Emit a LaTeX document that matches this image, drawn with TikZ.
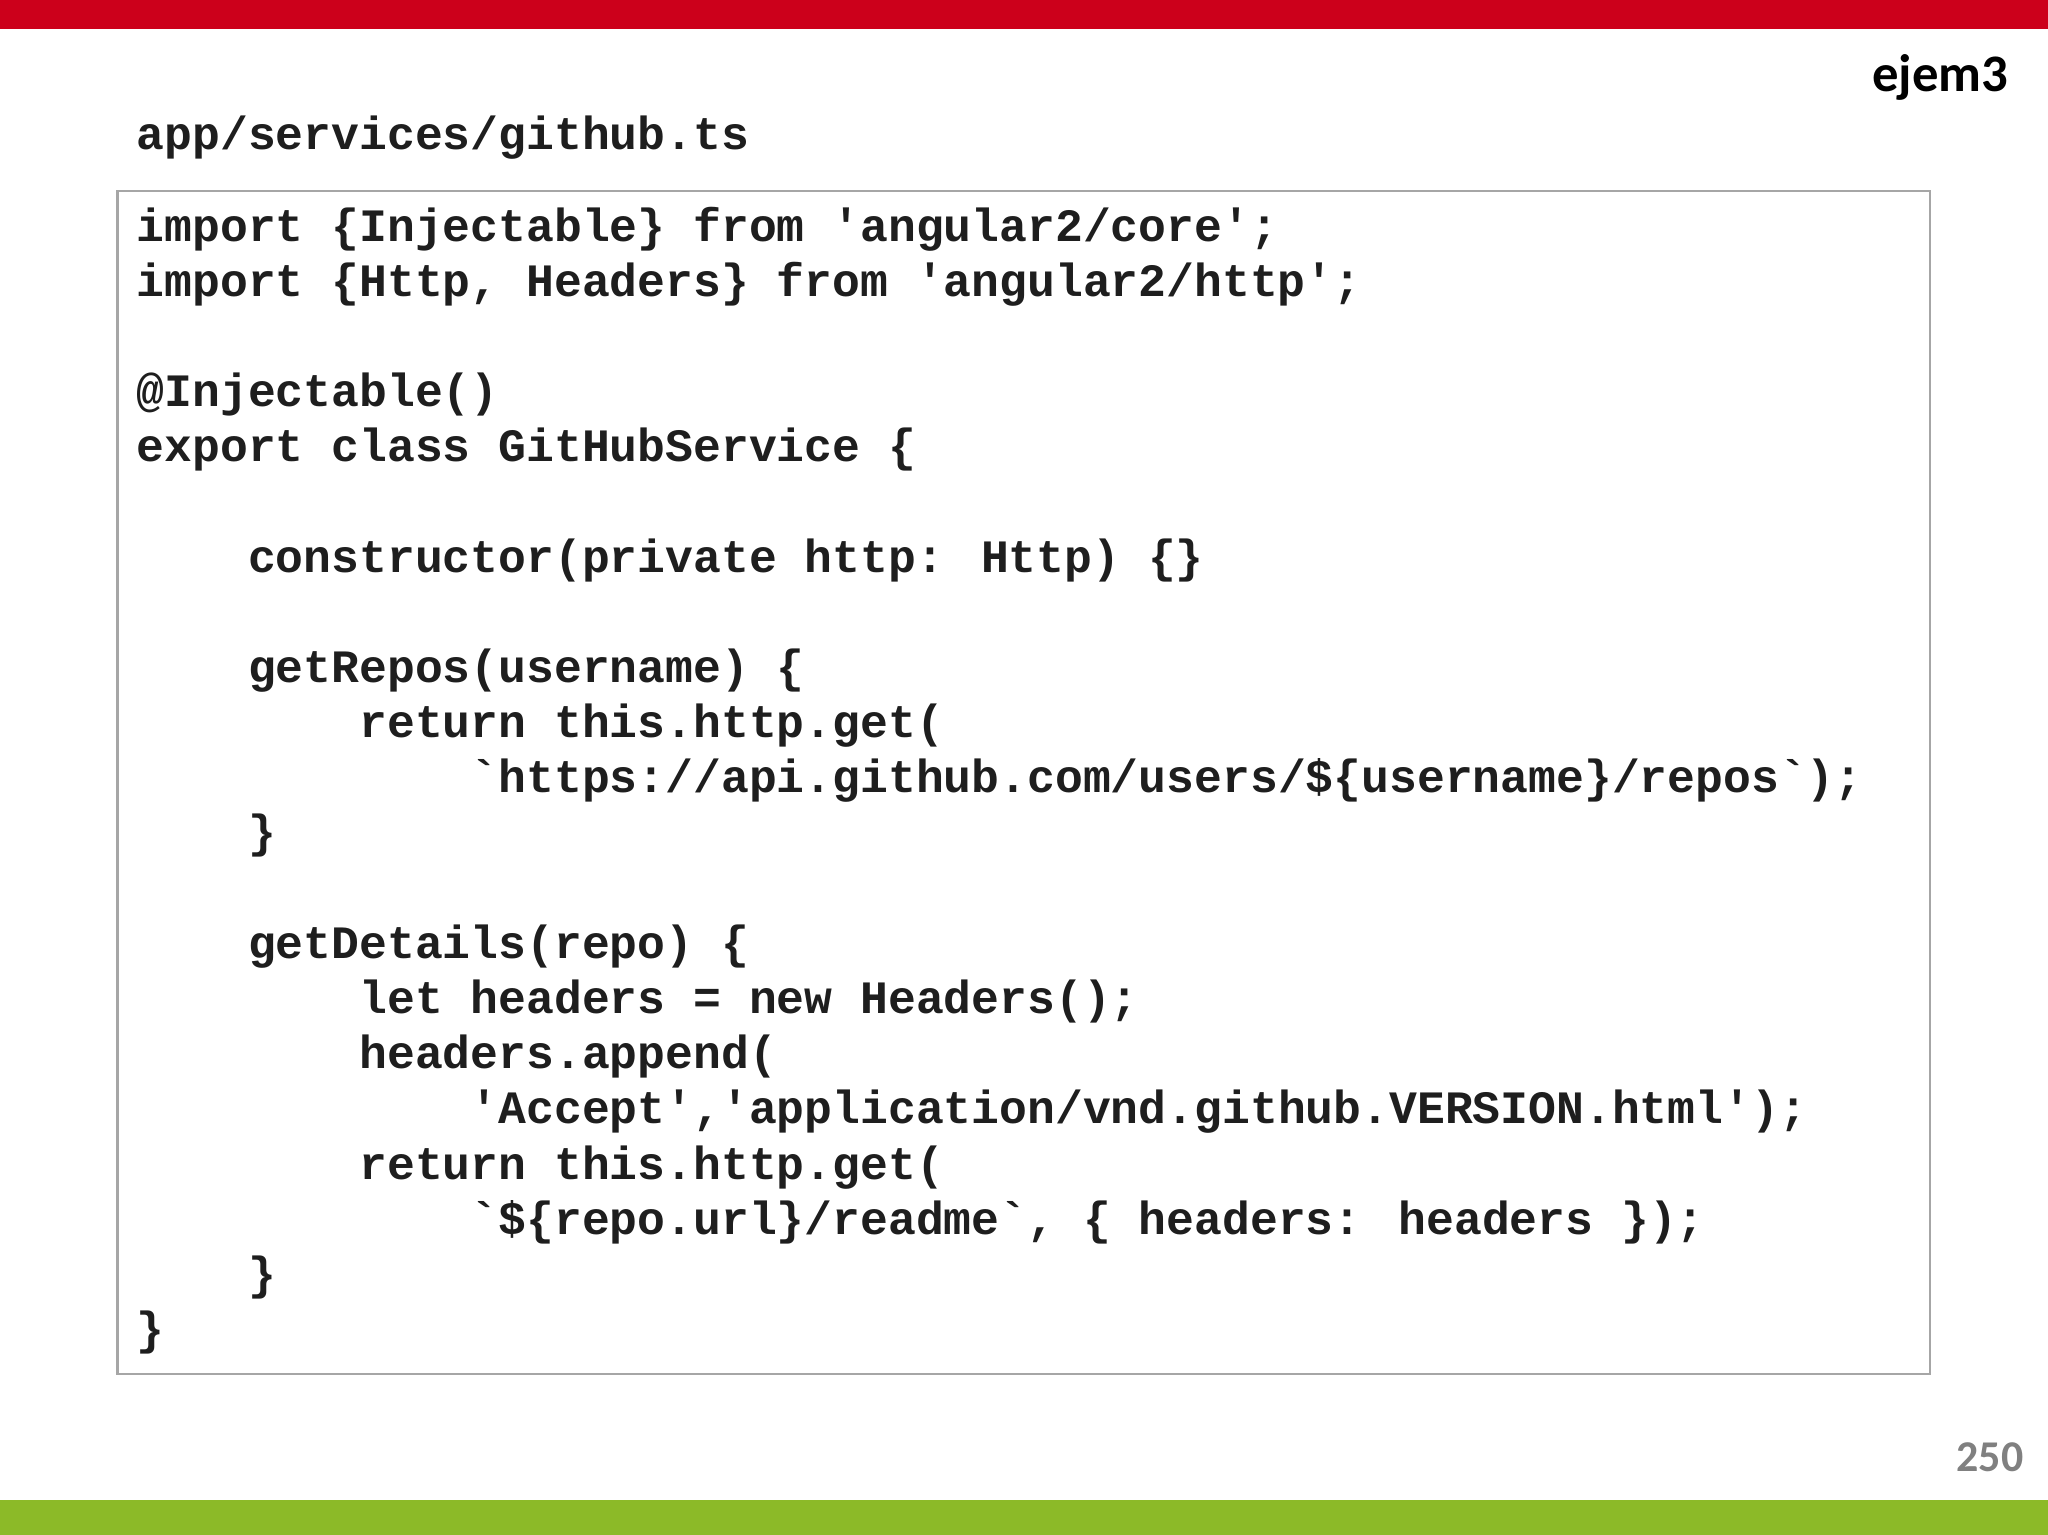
\documentclass[tikz,border=0pt]{standalone}
\usepackage{fontspec}
\setsansfont{Carlito}
\newfontfamily\codefont{Liberation Mono}
\usetikzlibrary{positioning}
\definecolor{slidered}{RGB}{204,0,27}
\definecolor{slidegreen}{RGB}{140,186,40}
\definecolor{codeink}{RGB}{30,30,30}
\tikzset{
  every node/.style={inner sep=0pt},
  code/.style={font=\codefont\bfseries\fontsize{13.2}{15.7}\selectfont, text=codeink, align=left},
}
\newcommand{\ind}{\phantom{xxxx}}
\begin{document}
\begin{tikzpicture}
  \useasboundingbox (0,0) rectangle (20.48,15.35);
  % bars
  \fill[slidered] (0,15.06) rectangle (20.48,15.35);
  \fill[slidegreen] (0,0) rectangle (20.48,0.35);
  % code frame
  \draw[gray!70, line width=0.6pt] (1.175,1.61) rectangle (19.30,13.44);
  \node[code, anchor=base west] (title) at (1.36,13.85) {app/services/github.ts};
  \node[font=\sffamily\bfseries\fontsize{15}{17}\selectfont, anchor=base east] (ejem) at (20.09,14.43) {ejem3};
  \node[font=\sffamily\bfseries\fontsize{12.5}{14}\selectfont, text=gray, anchor=base east] (page) at (20.24,0.63) {250};
  \node[code, anchor=north west] (src) at (1.36,13.29) {%
import \{Injectable\} from 'angular2/core';\\
import \{Http, Headers\} from 'angular2/http';\\
\mbox{}\\
@Injectable()\\
export class GitHubService \{\\
\mbox{}\\
\ind constructor(private http: Http) \{\}\\
\mbox{}\\
\ind getRepos(username) \{\\
\ind\ind return this.http.get(\\
\ind\ind\ind `https://api.github.com/users/\$\{username\}/repos`);\\
\ind \}\\
\mbox{}\\
\ind getDetails(repo) \{\\
\ind\ind let headers = new Headers();\\
\ind\ind headers.append(\\
\ind\ind\ind 'Accept','application/vnd.github.VERSION.html');\\
\ind\ind return this.http.get(\\
\ind\ind\ind `\$\{repo.url\}/readme`, \{ headers: headers \});\\
\ind \}\\
\}};
\end{tikzpicture}
\end{document}
